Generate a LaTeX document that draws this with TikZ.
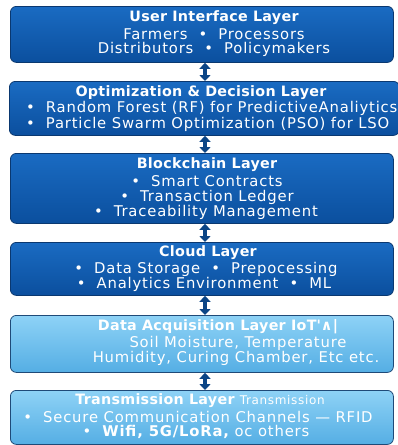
\documentclass[tikz,border=0pt]{standalone}
\usepackage{fontspec}
\setmainfont{DejaVu Sans}
\newfontfamily\spacedfont[LetterSpace=5.5]{DejaVu Sans}
\newfontfamily\titlefont[LetterSpace=2]{DejaVu Sans}
\usetikzlibrary{arrows.meta}
\definecolor{dkTop}{HTML}{1A6BC2}
\definecolor{dkBot}{HTML}{0B4F9E}
\definecolor{dkEdge}{HTML}{0A3870}
\definecolor{ltTop}{HTML}{8ED2F6}
\definecolor{ltBot}{HTML}{55AEE4}
\definecolor{ltEdge}{HTML}{1F4A78}
\definecolor{arrowblue}{HTML}{0B4586}
\tikzset{
  x=1pt, y=-1pt,
  darkbox/.style={draw=dkEdge, line width=0.8pt, rounded corners=6pt, top color=dkTop, bottom color=dkBot, anchor=north west, inner sep=0pt},
  lightbox/.style={draw=ltEdge, line width=0.8pt, rounded corners=6pt, top color=ltTop, bottom color=ltBot, anchor=north west, inner sep=0pt},
  ttl/.style={text=white, font=\titlefont\fontsize{14.3}{16}\selectfont\bfseries, inner sep=0pt},
  bodytxt/.style={text=white, font=\spacedfont\fontsize{14.8}{16}\selectfont, inner sep=0pt},
  link/.style={arrowblue, line width=4pt, {Triangle[width=11pt,length=6pt]}-{Triangle[width=11pt,length=6pt]}},
}
\begin{document}
\begin{tikzpicture}
\useasboundingbox (0,0) rectangle (398,445);
\fill[white] (0,0) rectangle (398,445);
% boxes
\node[darkbox, minimum width=383pt, minimum height=56pt] (b1) at (10,6) {};
\node[darkbox, minimum width=390pt, minimum height=54pt] (b2) at (9,81) {};
\node[darkbox, minimum width=383pt, minimum height=70pt] (b3) at (10,153) {};
\node[darkbox, minimum width=383pt, minimum height=53pt] (b4) at (10,242) {};
\node[lightbox, minimum width=383pt, minimum height=57pt] (b5) at (10,315) {};
\node[lightbox, minimum width=383pt, minimum height=54pt] (b6) at (10,390) {};
% arrows
\coordinate (ax) at (205,0);
\draw[link] (b1.south -| ax) -- (b2.north -| ax);
\draw[link] (b2.south -| ax) -- (b3.north -| ax);
\draw[link] (b3.south -| ax) -- (b4.north -| ax);
\draw[link] (b4.south -| ax) -- (b5.north -| ax);
\draw[link] (b5.south -| ax) -- (b6.north -| ax);
% texts box 1
\node[ttl] (t1) at (214,18) {User Interface Layer};
\node[bodytxt] (t1a) at (214,34) {Farmers \ • \ Processors};
\node[bodytxt] (t1b) at (214,49) {Distributors \ • \ Policymakers};
% box 2
\node[ttl] (t2) at (201,93) {Optimization \& Decision Layer};
\node[bodytxt, anchor=west] (t2a) at (26,108) {•\ \ Random Forest (RF) for PredictiveAnaliytics};
\node[bodytxt, anchor=west] (t2b) at (26,124) {•\ \ Particle Swarm Optimization (PSO) for LSO};
% box 3
\node[ttl] (t3) at (207,165) {Blockchain Layer};
\node[bodytxt] (t3a) at (207,181) {•\ \ Smart Contracts};
\node[bodytxt] (t3b) at (207,197) {•\ \ Transaction Ledger};
\node[bodytxt] (t3c) at (206,212) {•\ \ Traceability Management};
% box 4
\node[ttl] (t4) at (208,253) {Cloud Layer};
\node[bodytxt] (t4a) at (206,269) {•\ \ Data Storage \ •\ \ Prepocessing};
\node[bodytxt] (t4b) at (204,284) {•\ \ Analytics Environment \ •\ \ ML};
% box 5
\node[ttl] (t5) at (218,327) {Data Acquisition Layer IoT\textquotesingle∧|};
\node[bodytxt] (t5a) at (238,343) {Soil Moisture, Temperature};
\node[bodytxt] (t5b) at (236,358) {Humidity, Curing Chamber, Etc etc.};
% box 6
\node[ttl] (t6) at (200,401) {Transmission Layer {\spacedfont\fontsize{12}{14}\selectfont\mdseries Transmission}};
\node[bodytxt] (t6a) at (198,417) {•\ \ Secure Communication Channels — RFID};
\node[bodytxt] (t6b) at (196,432) {•\ \ {\bfseries Wifi, 5G/LoRa,} oc others};
\end{tikzpicture}
\end{document}
